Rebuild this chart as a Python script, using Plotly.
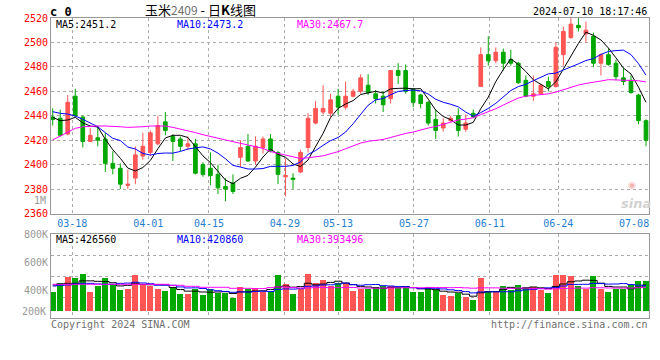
import plotly.graph_objects as go

# ---------------- data ----------------
dates = [
    "03-13", "03-14", "03-15", "03-18", "03-19", "03-20", "03-21", "03-22",
    "03-25", "03-26", "03-27", "03-28", "03-29",
    "04-01", "04-02", "04-03", "04-08", "04-09", "04-10", "04-11", "04-12",
    "04-15", "04-16", "04-17", "04-18", "04-19", "04-22", "04-23", "04-24",
    "04-25", "04-26", "04-29", "04-30",
    "05-06", "05-07", "05-08", "05-09", "05-10", "05-13", "05-14", "05-15",
    "05-16", "05-17", "05-20", "05-21", "05-22", "05-23", "05-24", "05-27",
    "05-28", "05-29", "05-30", "05-31",
    "06-03", "06-04", "06-05", "06-06", "06-07", "06-11", "06-12", "06-13",
    "06-14", "06-17", "06-18", "06-19", "06-20", "06-21", "06-24", "06-25",
    "06-26", "06-27", "06-28",
    "07-01", "07-02", "07-03", "07-04", "07-05", "07-08", "07-09", "07-10",
]

open_ = [2439, 2438, 2425, 2456, 2439, 2419, 2422, 2421, 2401, 2397,
         2383, 2389, 2407, 2410, 2417, 2435, 2423, 2421, 2415, 2417,
         2400, 2397, 2392, 2382, 2385, 2406, 2415, 2403, 2414, 2421,
         2410, 2390, 2389, 2394, 2414, 2434, 2443, 2442, 2456, 2447,
         2456, 2460, 2465, 2458, 2456, 2454, 2477, 2477, 2462, 2457,
         2451, 2437, 2430, 2436, 2440, 2429, 2442, 2464, 2490, 2485,
         2492, 2486, 2483, 2469, 2456, 2458, 2468, 2464, 2490, 2504,
         2514, 2507, 2505, 2483, 2490, 2483, 2471, 2469, 2457, 2436]
high = [2446, 2445, 2457, 2462, 2440, 2430, 2432, 2426, 2411, 2401,
        2396, 2415, 2426, 2428, 2440, 2443, 2425, 2423, 2423, 2421,
        2402, 2410, 2400, 2389, 2392, 2420, 2425, 2423, 2423, 2425,
        2411, 2405, 2393, 2412, 2442, 2452, 2465, 2458, 2462, 2468,
        2462, 2474, 2474, 2461, 2460, 2477, 2483, 2482, 2462, 2458,
        2452, 2445, 2438, 2440, 2446, 2441, 2445, 2496, 2505, 2496,
        2495, 2494, 2484, 2473, 2473, 2466, 2472, 2500, 2513, 2520,
        2520, 2517, 2508, 2491, 2495, 2486, 2479, 2473, 2458, 2437]
low = [2432, 2423, 2424, 2439, 2414, 2419, 2415, 2394, 2392, 2380,
       2380, 2384, 2404, 2407, 2416, 2424, 2403, 2411, 2412, 2392,
       2390, 2383, 2376, 2370, 2376, 2398, 2402, 2400, 2409, 2410,
       2384, 2374, 2380, 2393, 2410, 2433, 2441, 2439, 2441, 2445,
       2455, 2458, 2457, 2450, 2443, 2450, 2466, 2458, 2447, 2446,
       2432, 2421, 2427, 2435, 2423, 2427, 2438, 2464, 2481, 2483,
       2477, 2481, 2466, 2455, 2452, 2457, 2460, 2463, 2481, 2503,
       2509, 2500, 2480, 2473, 2481, 2469, 2465, 2458, 2433, 2415]
close = [2437, 2424, 2451, 2440, 2419, 2424, 2420, 2401, 2397, 2384,
         2384, 2408, 2415, 2426, 2432, 2428, 2419, 2415, 2417, 2393,
         2392, 2391, 2381, 2380, 2378, 2414, 2403, 2415, 2421, 2411,
         2392, 2391, 2388, 2410, 2438, 2446, 2446, 2453, 2447, 2456,
         2460, 2471, 2459, 2454, 2449, 2477, 2473, 2460, 2451, 2450,
         2434, 2428, 2434, 2438, 2428, 2434, 2439, 2490, 2485, 2492,
         2483, 2483, 2467, 2456, 2458, 2465, 2464, 2496, 2509, 2515,
         2512, 2510, 2483, 2490, 2482, 2472, 2468, 2459, 2436, 2420]
volume = [386000, 448000, 493000, 486000, 514000, 386000, 431000, 486000, 443000, 400000,
          407000, 507000, 443000, 431000, 407000, 393000, 417000, 371000, 371000, 407000,
          364000, 407000, 381000, 381000, 343000, 421000, 407000, 414000, 386000, 393000,
          507000, 443000, 371000, 407000, 514000, 450000, 471000, 429000, 450000, 450000,
          393000, 407000, 407000, 421000, 429000, 429000, 421000, 421000, 386000, 386000,
          421000, 400000, 364000, 357000, 379000, 350000, 329000, 486000, 393000, 386000,
          429000, 400000, 436000, 421000, 421000, 400000, 379000, 507000, 507000, 500000,
          429000, 407000, 500000, 407000, 386000, 407000, 407000, 436000, 464000, 464000]

# moving-average values before enough in-window history exists
ma5_head = [2438.7, 2436.0, 2436.5, 2438.7]
ma10_head = [2443.3, 2442.0, 2441.4, 2439.8, 2437.1, 2433.8, 2431.0, 2426.2, 2421.5]
ma30_head = [2420.2, 2423.4, 2427.0, 2429.7, 2431.0, 2431.6, 2431.6, 2431.6, 2431.6, 2431.0,
             2430.5, 2430.5, 2431.0, 2431.6, 2431.9, 2431.6, 2430.5, 2429.2, 2427.8, 2426.2,
             2424.5, 2422.9, 2421.5, 2420.2, 2418.8, 2417.4, 2416.1, 2415.2, 2413.3]
vma5_head = [435700, 442900, 447600, 447600]
vma10_head = [428600, 433300, 435700, 442900, 447600, 447600, 442900, 440700, 440700]
vma30_head = [440700, 440700, 440700, 440700, 440700, 440700, 440700, 440700, 440700, 440700,
              440700, 440700, 440700, 440700, 440700, 440700, 433600, 433600, 426400, 426400,
              419300, 419300, 419300, 419300, 412000, 412000, 412000, 410000, 410000]

label_dates = ["03-18", "04-01", "04-15", "04-29", "05-13", "05-27", "06-11", "06-24", "07-08"]
price_ticks = [2360, 2380, 2400, 2420, 2440, 2460, 2480, 2500, 2520]
vol_ticks = [400000, 600000, 800000]
vol_tick_text = ["400K", "600K", "800K"]

title_name = "玉米"
title_code = "2409"
title_rest = " - 日<b>K</b>线图"
timestamp = "2024-07-10 18:17:46"
price_ma_text = ["MA5:2451.2", "MA10:2473.2", "MA30:2467.7"]
vol_ma_text = ["MA5:426560", "MA10:420860", "MA30:393496"]

# ---------------- styling ----------------
W, H = 660, 360
L, R, T, B = 51, 11, 18, 42
RED = "#ff5555"
GREEN = "#00a800"
GRID = "#aaaaaa"
BORDER = "#999999"
MONO = "DejaVu Sans Mono"
VOL_BASE = 250000
GRID_SCALE, GRID_SHIFT = 1.011, -0.43


def px(x):
    return (x - L) / (W - L - R)


def py(y):
    return (H - B - y) / (H - T - B)


def moving_average(vals, n, head):
    out = list(head)
    for i in range(len(head), len(vals)):
        out.append(sum(vals[i - n + 1:i + 1]) / n)
    return out


idx = list(range(len(dates)))
label_idx = [dates.index(d) for d in label_dates]
grid_pos = [i * GRID_SCALE + GRID_SHIFT for i in label_idx]

ma5 = moving_average(close, 5, ma5_head)
ma10 = moving_average(close, 10, ma10_head)
ma30 = moving_average(close, 30, ma30_head)
vma5 = moving_average(volume, 5, vma5_head)
vma10 = moving_average(volume, 10, vma10_head)
vma30 = moving_average(volume, 30, vma30_head)

fig = go.Figure()
fig.add_trace(go.Candlestick(
    x=idx, open=open_, high=high, low=low, close=close,
    increasing=dict(line=dict(color=RED, width=1), fillcolor=RED),
    decreasing=dict(line=dict(color=GREEN, width=1), fillcolor=GREEN),
    whiskerwidth=0, xaxis="x", yaxis="y", showlegend=False, hoverinfo="skip"))
for vals, col in [(ma5, "#000000"), (ma10, "#0000ff"), (ma30, "#ff00ff")]:
    fig.add_trace(go.Scatter(x=idx, y=vals, mode="lines", line=dict(color=col, width=1),
                             xaxis="x", yaxis="y", showlegend=False, hoverinfo="skip"))

bar_colors = [RED if c >= o else GREEN for o, c in zip(open_, close)]
fig.add_trace(go.Bar(x=idx, y=[v - VOL_BASE for v in volume], base=VOL_BASE,
                     marker=dict(color=bar_colors, line=dict(width=0)), width=0.8,
                     xaxis="x2", yaxis="y2", showlegend=False, hoverinfo="skip"))
for vals, col in [(vma5, "#000000"), (vma10, "#0000ff"), (vma30, "#ff00ff")]:
    fig.add_trace(go.Scatter(x=idx, y=vals, mode="lines", line=dict(color=col, width=1, shape="hvh"),
                             xaxis="x2", yaxis="y2", showlegend=False, hoverinfo="skip"))

xr = [-0.23, 79.4]
minor_x = dict(tickvals=grid_pos[:-1], showgrid=True, gridcolor=GRID, griddash="dot",
               gridwidth=1, ticks="")
fig.update_layout(
    width=W, height=H,
    margin=dict(l=L, r=R, t=T, b=B),
    paper_bgcolor="white", plot_bgcolor="white",
    bargap=0,
    xaxis=dict(domain=[0, 1], range=xr, anchor="y", tickmode="array", tickvals=grid_pos,
               ticktext=label_dates, showgrid=False, minor=minor_x, zeroline=False,
               tickfont=dict(family=MONO, size=10, color="#1f80d0"), ticks="",
               showline=True, mirror=True, linecolor=BORDER, linewidth=1,
               rangeslider=dict(visible=False), fixedrange=True),
    yaxis=dict(domain=[py(213.5), 1], range=[2360, 2520], tickmode="array", tickvals=price_ticks,
               showgrid=True, gridcolor=GRID, griddash="dot", gridwidth=1, zeroline=False,
               tickfont=dict(family=MONO, size=10, color="#ff0000"), ticks="",
               showline=True, mirror=True, linecolor=BORDER, linewidth=1),
    xaxis2=dict(domain=[0, 1], range=xr, anchor="y2", showticklabels=False, showgrid=False,
                minor=minor_x, zeroline=False, ticks="",
                showline=True, mirror=True, linecolor=BORDER, linewidth=1),
    yaxis2=dict(domain=[0, py(234)], range=[200000, 800000], tickmode="array",
                tickvals=vol_ticks, ticktext=vol_tick_text, showgrid=False,
                minor=dict(tickvals=[350000, 500000, 650000], showgrid=True, gridcolor=GRID,
                           griddash="dot", gridwidth=1, ticks=""),
                zeroline=False, tickfont=dict(family=MONO, size=10, color="#999999"), ticks="",
                showline=True, mirror=True, linecolor=BORDER, linewidth=1),
)

ann = []


def text(x, y, s, color="#000000", size=10, xanchor="left", family=MONO, **kw):
    ann.append(dict(x=px(x), y=py(y), xref="paper", yref="paper", text=s, showarrow=False,
                    xanchor=xanchor, yanchor="middle", font=dict(family=family, size=size, color=color),
                    **kw))


text(48, 12, "<b>c 0</b>", size=12)
text(200, 9.5, title_name + "<span style='color:#707070;font-size:12px'>" + title_code + "</span>"
     + title_rest, size=13, xanchor="center", family="Noto Sans CJK SC")
text(649, 12, timestamp, xanchor="right")
for s, x, c in zip(price_ma_text, [54, 175, 295], ["#000000", "#0000ff", "#ff00ff"]):
    text(x, 25, s, color=c)
for s, x, c in zip(vol_ma_text, [54, 175, 295], ["#000000", "#0000ff", "#ff00ff"]):
    text(x, 239, s, color=c)
text(48, 200, "1M", color="#999999", xanchor="right")
text(48, 311, "200K", color="#999999", xanchor="right")
text(49, 324, "Copyright 2024 SINA.COM", color="#707070")
text(650, 324, "http://finance.sina.com.cn", color="#707070", xanchor="right")
text(632, 185, "◉", color="#f2b4b4", size=9, xanchor="center", family="DejaVu Sans")
text(636, 203, "<b><i>sina</i></b>", color="#d2d2d2", size=13, xanchor="center", family="DejaVu Sans")
fig.update_layout(annotations=ann)

fig.write_html("out.html", config={"displayModeBar": False, "staticPlot": True},
               post_script=["document.body.style.margin='0px';"])
